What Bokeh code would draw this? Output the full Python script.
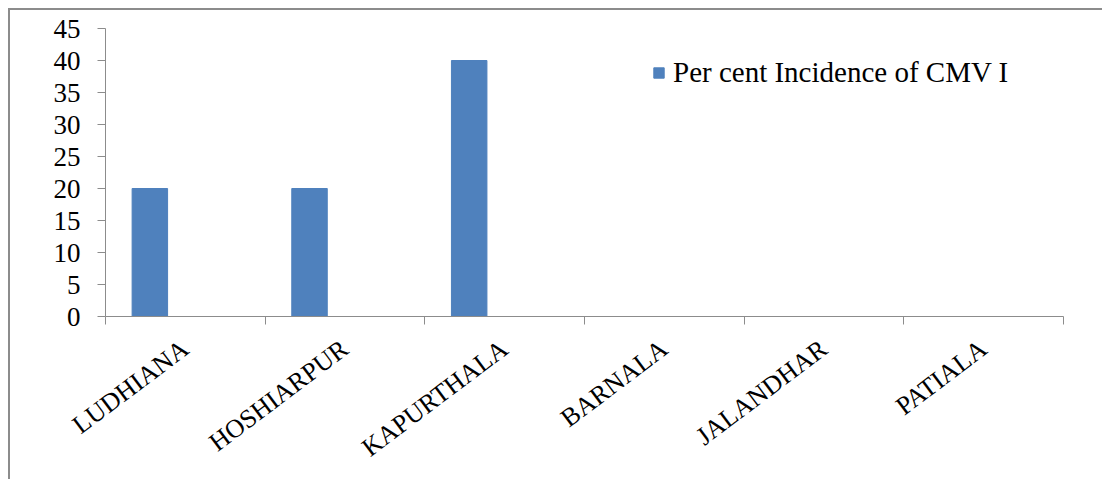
import math
from bokeh.plotting import figure
from bokeh.models import (ColumnDataSource, FixedTicker, LinearAxis, Legend,
                          LegendItem, Range1d)
from bokeh.embed import file_html
from bokeh.resources import INLINE

# Survey data
districts = ["LUDHIANA", "HOSHIARPUR", "KAPURTHALA", "BARNALA", "JALANDHAR", "PATIALA"]
incidence = [20, 20, 40, 0, 0, 0]
series_name = "Per cent Incidence of CMV I"
y_ticks = [0, 5, 10, 15, 20, 25, 30, 35, 40, 45]

FONT = "Liberation Serif"
BAR = "#4F81BD"
AXIS = "#8C8C8C"

# Each category slot holds three bar widths plus a 150% gap; the series sits first.
slot_bar = 1 / 4.5
idx = list(range(len(districts)))
bar_x = [i + 0.75 * slot_bar + slot_bar / 2 for i in idx]

src = ColumnDataSource(dict(x=bar_x, top=incidence))

p = figure(width=1094, height=471, output_backend="svg", toolbar_location=None,
           x_range=Range1d(0, 6), y_range=Range1d(0, 45),
           min_border_left=95, min_border_right=41,
           min_border_top=18, min_border_bottom=165)
p.styles = {"margin-left": "8px", "margin-top": "8px",
            "border-left": "2px solid #8C8C8C", "border-top": "2px solid #8C8C8C"}
p.outline_line_color = None
p.background_fill_color = "white"
p.border_fill_color = "white"
p.xgrid.visible = False
p.ygrid.visible = False

bars = p.vbar(x="x", top="top", bottom=0, width=slot_bar, source=src,
              fill_color=BAR, line_color=BAR)

# y axis
ya = p.yaxis[0]
ya.ticker = FixedTicker(ticks=y_ticks)
ya.axis_line_color = AXIS
ya.major_tick_line_color = AXIS
ya.major_tick_out = 8
ya.major_tick_in = 0
ya.minor_tick_line_color = None
ya.major_label_standoff = 17
ya.major_label_text_font = FONT
ya.major_label_text_font_size = "27px"
ya.major_label_text_color = "black"

# x axis: tick marks on the category boundaries, no labels
xa = p.xaxis[0]
xa.ticker = FixedTicker(ticks=list(range(len(districts) + 1)))
xa.axis_line_color = AXIS
xa.major_tick_line_color = AXIS
xa.major_tick_out = 8
xa.major_tick_in = 0
xa.minor_tick_line_color = None
xa.major_label_text_color = None
xa.major_label_text_font_size = "0px"
xa.major_label_standoff = 0

# second x axis carrying the district names, slanted
name_ticks = [i + 0.5 for i in idx]
na = LinearAxis(ticker=FixedTicker(ticks=name_ticks),
                major_label_overrides={t: n for t, n in zip(name_ticks, districts)},
                axis_line_color=None, major_tick_line_color=None,
                minor_tick_line_color=None,
                major_label_orientation=math.radians(37),
                major_label_standoff=15,
                major_label_text_font=FONT, major_label_text_font_size="26px",
                major_label_text_color="black")
p.add_layout(na, "below")

legend = Legend(items=[LegendItem(label=series_name, renderers=[bars])],
                location=(547, 227), orientation="vertical",
                border_line_color=None, background_fill_alpha=0,
                padding=0, margin=0, spacing=0,
                glyph_width=13, glyph_height=13, label_standoff=8,
                label_text_font=FONT, label_text_font_size="29px",
                label_text_color="black")
p.add_layout(legend)

open("out.html", "w").write(file_html(p, INLINE))
